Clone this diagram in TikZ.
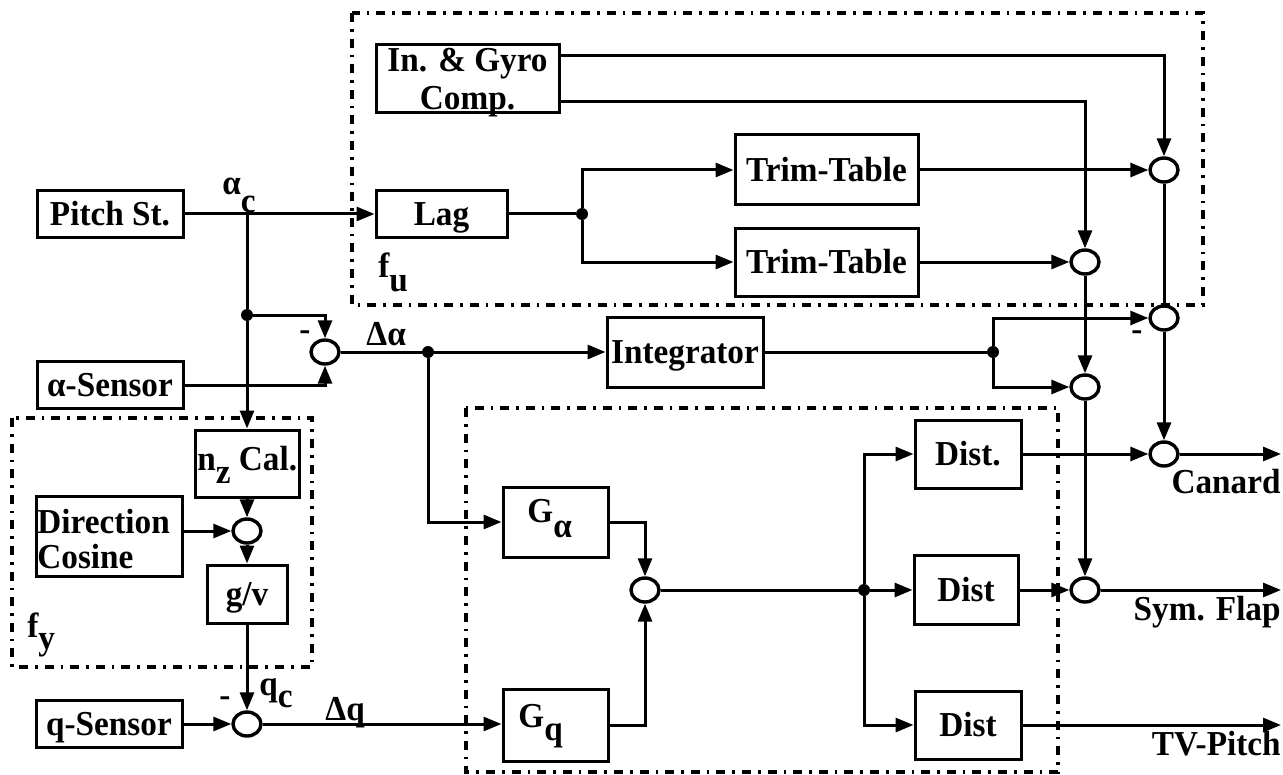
\documentclass[tikz,border=0pt]{standalone}
\usepackage{fontspec}
\setmainfont{Liberation Serif}[FakeStretch=0.95]
\usetikzlibrary{arrows.meta,shapes.geometric,calc}
\begin{document}
\begin{tikzpicture}[x=0.5pt,y=-0.5pt,
  every node/.style={font=\bfseries\fontsize{17.5}{20}\selectfont},
  bx/.style={draw,line width=1.5pt,inner sep=0pt,text height=11.6pt,text depth=0pt},
  sm/.style={draw,ellipse,line width=1.7pt,minimum width=14pt,minimum height=12pt,inner sep=0pt},
  jn/.style={circle,fill,minimum size=6pt,inner sep=0pt},
  ln/.style={line width=1.5pt},
  ar/.style={line width=1.5pt,-{Triangle[length=9pt,width=7pt]}},
  dd/.style={line width=2pt,dash pattern=on 4.5pt off 3.5pt on 1.3pt off 3.5pt},
  tx/.style={inner sep=0pt}]
\useasboundingbox (0,0) rectangle (1283,775);
% dash-dot frames
\draw[dd] (352,13) rectangle (1203,305);
\draw[dd] (12,418) rectangle (312,667);
\draw[dd] (466,408) rectangle (1058,772);
% boxes
\node[bx,minimum width=73pt,minimum height=23.5pt] (pitch) at (110,214) {Pitch St.};
\node[bx,minimum width=73pt,minimum height=23.5pt] (asensor) at (110,385) {α-Sensor};
\node[bx,minimum width=52pt,minimum height=33.5pt] (nz) at (247,463.5) {};
\node[bx,minimum width=73pt,minimum height=40pt] (dircos) at (109,536) {};
\node[bx,minimum width=40pt,minimum height=29pt] (gv) at (247,594) {g/v};
\node[bx,minimum width=73pt,minimum height=23.5pt] (qsensor) at (109,724) {q-Sensor};
\node[bx,minimum width=65.5pt,minimum height=23pt] (lag) at (441.5,214) {Lag};
\node[bx,minimum width=91.5pt,minimum height=34pt] (gyro) at (467.5,79) {};
\node[bx,minimum width=91.5pt,minimum height=35pt] (trim1) at (826.5,170) {Trim-Table};
\node[bx,minimum width=91.5pt,minimum height=34pt] (trim2) at (826.5,262) {Trim-Table};
\node[bx,minimum width=78pt,minimum height=35pt] (integ) at (685,352) {Integrator};
\node[bx,minimum width=52.5pt,minimum height=35pt] (galpha) at (555.5,522) {};
\node[bx,minimum width=52.5pt,minimum height=36pt] (gq) at (555.5,725) {};
\node[bx,minimum width=53pt,minimum height=34pt] (dist1) at (968,454) {Dist.};
\node[bx,minimum width=52pt,minimum height=34.5pt] (dist2) at (966,590) {Dist};
\node[bx,minimum width=53pt,minimum height=34pt] (dist3) at (968,725) {Dist};
% texts inside custom boxes
\node[tx,anchor=base] (gyrot1) at (467.5,72) {In. \& Gyro};
\node[tx,anchor=base] (gyrot2) at (467.5,110) {Comp.};
\node[tx,anchor=base west] (dirt1) at (37,533) {Direction};
\node[tx,anchor=base west] (dirt2) at (37,568) {Cosine};
\node[tx,anchor=base west] (nzt) at (197,470) {n\raisebox{-6.5pt}{z} Cal.};
\node[tx,anchor=base west] (gat) at (527,522) {G\raisebox{-7.5pt}{α}};
\node[tx,anchor=base west] (gqt) at (518,727) {G\raisebox{-6.5pt}{q}};
% summing junctions
\node[sm] (sA) at (1164,170) {};
\node[sm] (sB) at (1085,262) {};
\node[sm] (sC) at (1164,318) {};
\node[sm] (sD) at (1085,387) {};
\node[sm] (sE) at (1164,454) {};
\node[sm] (sF) at (1085,590) {};
\node[sm] (sAl) at (325,352) {};
\node[sm] (sDir) at (247,531) {};
\node[sm] (sQ) at (247,724) {};
\node[sm] (sMid) at (645,590) {};
% branch points
\node[jn] (jL) at (582,214) {};
\node[jn] (jA) at (247,315) {};
\node[jn] (jD) at (428,352) {};
\node[jn] (jI) at (993,352) {};
\node[jn] (jM) at (864,590) {};
\coordinate (ac) at (247,214);
\coordinate (oC) at (1281,454);
\coordinate (oS) at (1281,590);
\coordinate (oT) at (1281,725);
% connectors
\draw[ar] (pitch.east) -- (lag.west);
\draw[ar] (ac) -- (jA) -- (nz.north);
\draw[ar] (jA) -| (sAl);
\draw[ar] (asensor.east) -| (sAl);
\draw[ln] (sAl) -- (jD);
\draw[ar] (jD) -- (integ.west);
\draw[ar] (jD) |- (galpha.west);
\draw[ar] ($(gyro.north east)+(0,12)$) -| (sA);
\draw[ar] ($(gyro.south east)+(0,-13)$) -| (sB);
\draw[ln] (lag.east) -- (jL);
\draw[ar] (jL) |- (trim1.west);
\draw[ar] (jL) |- (trim2.west);
\draw[ar] (trim1) -- (sA);
\draw[ar] (trim2) -- (sB);
\draw[ln] (sA) -- (sC);
\draw[ar] (sB) -- (sD);
\draw[ln] (integ.east) -- (jI);
\draw[ar] (jI) |- (sC);
\draw[ar] (jI) |- (sD);
\draw[ar] (sC) -- (sE);
\draw[ar] (sD) -- (sF);
\draw[ar] (sE) -- (oC);
\draw[ar] (sF) -- (oS);
\draw[ar] (dist3) -- (oT);
\draw[ar] (dist1) -- (sE);
\draw[ar] (dist2) -- (sF);
\draw[ar] (nz) -- (sDir);
\draw[ar] (dircos.east |- sDir) -- (sDir);
\draw[ar] (sDir) -- (gv);
\draw[ar] (gv) -- (sQ);
\draw[ar] (qsensor) -- (sQ);
\draw[ar] (sQ) -- (gq.west |- sQ);
\draw[ar] (galpha.east) -| (sMid);
\draw[ar] (gq.east) -| (sMid);
\draw[ln] (sMid) -- (jM);
\draw[ar] (jM) |- (dist1.west);
\draw[ar] (jM) -- (dist2.west);
\draw[ar] (jM) |- (dist3.west);
% labels
\node[tx,anchor=base west] (lac) at (222,195) {α\raisebox{-9pt}{c}};
\node[tx] (m1) at (305,336) {-};
\node[tx,anchor=base west] (lda) at (366,345) {Δα};
\node[tx,anchor=base west] (lfu) at (378,277) {f\raisebox{-7pt}{u}};
\node[tx,anchor=base west] (lfy) at (27,637) {f\raisebox{-6pt}{y}};
\node[tx,anchor=base west] (lqc) at (259,695) {q\raisebox{-6pt}{c}};
\node[tx] (m2) at (225,702) {-};
\node[tx,anchor=base west] (ldq) at (325,720) {Δq};
\node[tx] (m3) at (1137,336) {-};
\node[tx,anchor=base east] (lcan) at (1281,493) {Canard};
\node[tx,anchor=base east] (lsym) at (1281,620) {Sym. Flap};
\node[tx,anchor=base east] (ltv) at (1281,755) {TV-Pitch};
\end{tikzpicture}
\end{document}
